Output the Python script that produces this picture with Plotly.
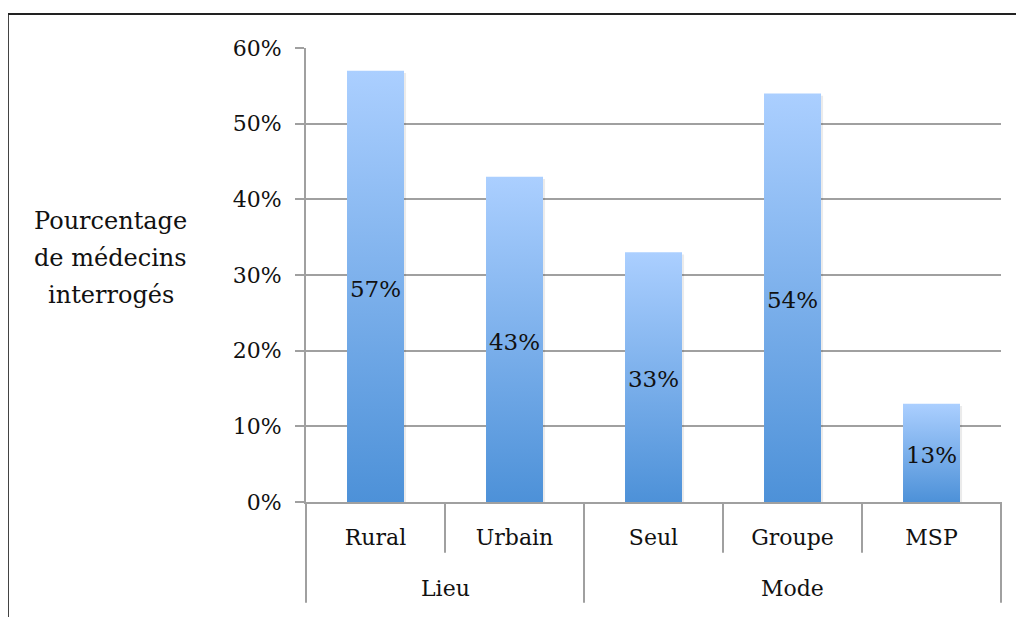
import plotly.graph_objects as go

# data
groups = ["Lieu", "Lieu", "Mode", "Mode", "Mode"]
categories = ["Rural", "Urbain", "Seul", "Groupe", "MSP"]
values = [57, 43, 33, 54, 13]
y_ticks = [0, 10, 20, 30, 40, 50, 60]
y_title = ["Pourcentage", "de médecins", "interrogés"]

FONT = "DejaVu Serif"
FSIZE = 22
GRID = "#a0a0a0"
BAR_W = 0.41

fig = go.Figure()

# bars drawn as filled shapes so they can carry a vertical gradient
for i, v in enumerate(values):
    x0, x1 = i - BAR_W / 2, i + BAR_W / 2
    # soft shadow
    fig.add_trace(go.Scatter(
        x=[x0 + 0.015, x1 + 0.015, x1 + 0.015, x0 + 0.015, x0 + 0.015],
        y=[-0.3, -0.3, v - 0.3, v - 0.3, -0.3],
        fill="toself", mode="lines", line=dict(width=0),
        fillcolor="rgba(0,0,0,0.08)", hoverinfo="skip", showlegend=False))
    fig.add_trace(go.Scatter(
        x=[x0, x1, x1, x0, x0], y=[0, 0, v, v, 0],
        fill="toself", mode="lines", line=dict(width=0),
        fillgradient=dict(type="vertical",
                          colorscale=[[0, "#4d91d8"], [1, "#abcfff"]]),
        name=categories[i], showlegend=False))

# value labels in the middle of each bar
fig.add_trace(go.Scatter(
    x=list(range(len(values))), y=[v / 2 - 0.6 for v in values],
    mode="text", text=[f"{v}%" for v in values],
    textfont=dict(family=FONT, size=FSIZE + 1, color="#111"),
    hoverinfo="skip", showlegend=False))

fig.update_layout(
    width=1024, height=617,
    margin=dict(l=298, r=31, t=40, b=123),
    paper_bgcolor="white", plot_bgcolor="white",
    font=dict(family=FONT, size=FSIZE, color="#111"),
    xaxis=dict(range=[-0.5, len(values) - 0.5], tickvals=list(range(len(values))),
               ticktext=categories, showgrid=False, zeroline=False,
               showline=True, linecolor=GRID, linewidth=2, ticks="",
               ticklabelstandoff=15, fixedrange=True),
    yaxis=dict(range=[0, 60], tickvals=y_ticks, ticktext=[f"{t}%" for t in y_ticks],
               showgrid=True, gridcolor=GRID, gridwidth=2, zeroline=False,
               showline=True, linecolor=GRID, linewidth=2,
               ticks="outside", ticklen=9, tickcolor=GRID, tickwidth=2,
               ticklabelstandoff=9),
)

# y axis title, horizontal on the left, one annotation per line
for k, line in enumerate(y_title):
    fig.add_annotation(text=line, xref="paper", yref="paper",
                       x=-0.281, y=0.619 - k * 0.081, xanchor="center", yanchor="middle",
                       showarrow=False, font=dict(family=FONT, size=FSIZE + 2, color="#111"))

n = len(categories)
# separators between categories and group labels
for i in range(n + 1):
    is_group_edge = i == 0 or i == n or groups[i - 1] != groups[i]
    fig.add_shape(type="line", xref="paper", yref="paper",
                  x0=i / n, x1=i / n, y0=0, y1=-0.222 if is_group_edge else -0.112,
                  line=dict(color=GRID, width=2))

for g in dict.fromkeys(groups):
    idx = [i for i, gg in enumerate(groups) if gg == g]
    fig.add_annotation(text=g, xref="x", yref="paper",
                       x=(idx[0] + idx[-1]) / 2, y=-0.19, xanchor="center", yanchor="middle",
                       showarrow=False, font=dict(family=FONT, size=FSIZE, color="#111"))

# outer chart border
fig.add_shape(type="rect", xref="paper", yref="paper",
              x0=-0.429, x1=1.1, y0=-0.4, y1=1.075,
              line=dict(color="#222", width=2))

fig.write_html("out.html")
